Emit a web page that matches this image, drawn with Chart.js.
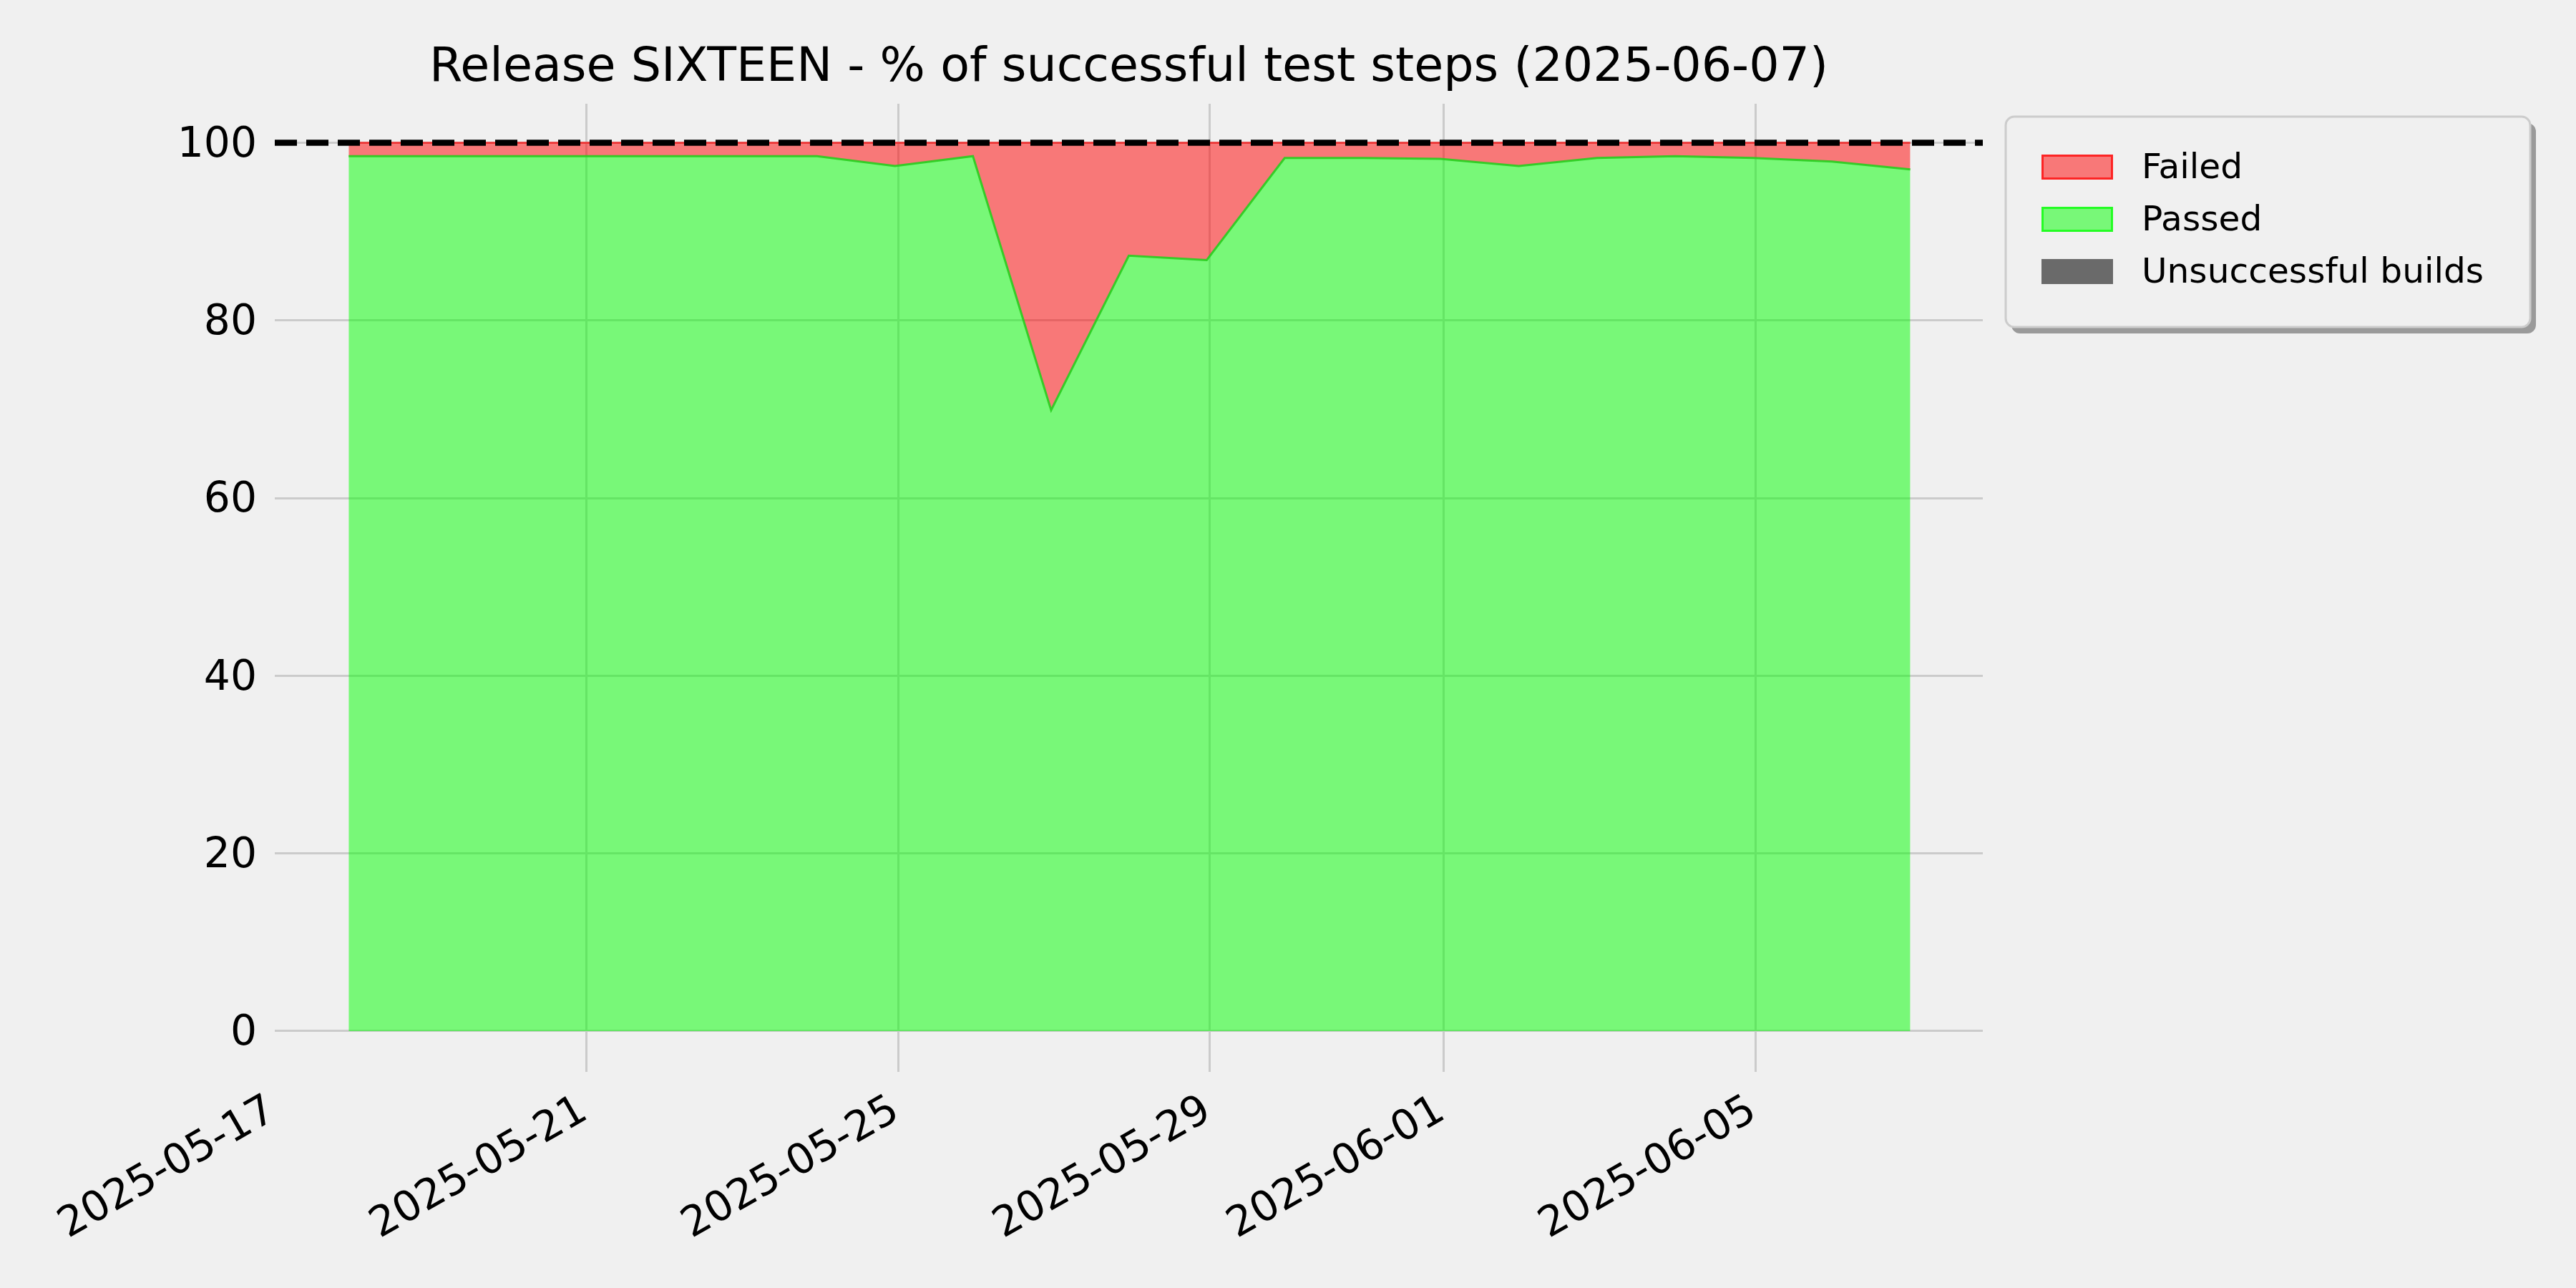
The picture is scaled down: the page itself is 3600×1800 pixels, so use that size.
<!DOCTYPE html>
<html>
<head>
<meta charset="utf-8">
<title>Release SIXTEEN - successful test steps</title>
<script src="https://cdn.jsdelivr.net/npm/chart.js@4.4.1/dist/chart.umd.min.js"></script>
<style>
  html, body { margin: 0; padding: 0; background: #f0f0f0; }
  canvas { display: block; }
</style>
</head>
<body>
<canvas id="chart" width="3600" height="1800"></canvas>
<script>
const chartTitle = 'Release SIXTEEN - % of successful test steps (2025-06-07)';

// nightly runs (UTC)
const runTimes = [
  '2025-05-17T22:45:00Z', '2025-05-18T23:00:00Z', '2025-05-19T23:00:00Z', '2025-05-20T23:00:00Z',
  '2025-05-21T23:00:00Z', '2025-05-22T23:00:00Z', '2025-05-23T23:00:00Z', '2025-05-24T23:00:00Z',
  '2025-05-25T23:00:00Z', '2025-05-26T23:05:00Z', '2025-05-27T23:00:00Z', '2025-05-28T23:00:00Z',
  '2025-05-29T23:00:00Z', '2025-05-30T23:00:00Z', '2025-05-31T23:00:00Z', '2025-06-01T23:05:00Z',
  '2025-06-02T23:10:00Z', '2025-06-03T23:15:00Z', '2025-06-04T23:20:00Z', '2025-06-05T23:30:00Z',
  '2025-06-06T23:40:00Z'
];
const passedPct = [98.5, 98.5, 98.5, 98.5, 98.5, 98.5, 98.5, 97.4, 98.5, 69.9, 87.3,
                   86.8, 98.3, 98.3, 98.2, 97.4, 98.3, 98.5, 98.3, 97.9, 97.0];
const failedPct = [1.5, 1.5, 1.5, 1.5, 1.5, 1.5, 1.5, 2.6, 1.5, 30.1, 12.7,
                   13.2, 1.7, 1.7, 1.8, 2.6, 1.7, 1.5, 1.7, 2.1, 3.0];
const unsuccessfulPct = [0, 0, 0, 0, 0, 0, 0, 0, 0, 0, 0,
                         0, 0, 0, 0, 0, 0, 0, 0, 0, 0];

const xTickLabels = ['2025-05-17', '2025-05-21', '2025-05-25', '2025-05-29', '2025-06-01', '2025-06-05'];
const yTicks = [0, 20, 40, 60, 80, 100];
const targetPct = 100;
const xRange = ['2025-05-17T00:00:00Z', '2025-06-07T22:00:00Z'];
const yRange = [-4.6, 104.4];

const FONT = "'DejaVu Sans', 'Liberation Sans', sans-serif";
const BG = '#f0f0f0';
const GRID = '#cbcbcb';

function toMs(s) {
  if (s.length === 10) s += 'T00:00:00Z';
  return new Date(s).getTime();
}

function series(values) {
  return values.map((v, i) => ({ x: toMs(runTimes[i]), y: v }));
}

const background = {
  id: 'background',
  beforeDraw(chart) {
    const ctx = chart.ctx;
    ctx.save();
    ctx.fillStyle = BG;
    ctx.fillRect(0, 0, chart.width, chart.height);
    ctx.restore();
  }
};

function roundRect(ctx, x, y, w, h, r) {
  ctx.beginPath();
  ctx.moveTo(x + r, y);
  ctx.arcTo(x + w, y, x + w, y + h, r);
  ctx.arcTo(x + w, y + h, x, y + h, r);
  ctx.arcTo(x, y + h, x, y, r);
  ctx.arcTo(x, y, x + w, y, r);
  ctx.closePath();
}

// title centred over the axes, legend outside on the right (matplotlib look)
const decorations = {
  id: 'decorations',
  afterDraw(chart) {
    const ctx = chart.ctx;
    const area = chart.chartArea;
    ctx.save();

    ctx.fillStyle = '#000';
    ctx.font = '66.7px ' + FONT;
    ctx.textAlign = 'center';
    ctx.textBaseline = 'alphabetic';
    ctx.fillText(chartTitle, (area.left + area.right) / 2, 113);

    const box = { x: 2803, y: 163, w: 733, h: 294 };
    ctx.fillStyle = '#9a9a9a';
    roundRect(ctx, box.x + 8, box.y + 9, box.w, box.h, 12);
    ctx.fill();
    ctx.fillStyle = BG;
    roundRect(ctx, box.x, box.y, box.w, box.h, 12);
    ctx.fill();
    ctx.strokeStyle = '#cccccc';
    ctx.lineWidth = 3;
    ctx.stroke();

    const order = [1, 0, 2];
    ctx.font = '48.6px ' + FONT;
    ctx.textAlign = 'left';
    ctx.textBaseline = 'middle';
    order.forEach((di, row) => {
      const ds = chart.data.datasets[di];
      const cy = 233.5 + row * 73;
      ctx.fillStyle = BG;
      ctx.fillRect(2853, cy - 17.5, 100, 35);
      ctx.fillStyle = ds.backgroundColor;
      ctx.fillRect(2853, cy - 17.5, 100, 35);
      if (ds.legendEdge) {
        ctx.strokeStyle = ds.legendEdge;
        ctx.lineWidth = 3;
        ctx.strokeRect(2854.5, cy - 16, 97, 32);
      }
      ctx.fillStyle = '#000';
      ctx.fillText(ds.label, 2993, cy + 3);
    });
    ctx.restore();
  }
};

new Chart(document.getElementById('chart'), {
  type: 'line',
  data: {
    datasets: [
      {
        label: 'Passed',
        data: series(passedPct),
        backgroundColor: 'rgba(0, 255, 0, 0.5)',
        borderColor: 'rgba(40, 205, 30, 0.9)',
        legendEdge: 'rgba(0, 255, 0, 0.7)',
        borderWidth: 3,
        fill: 'origin',
        stack: 'runs'
      },
      {
        label: 'Failed',
        data: series(failedPct),
        backgroundColor: 'rgba(255, 0, 0, 0.5)',
        borderColor: 'rgba(240, 40, 40, 0.8)',
        legendEdge: 'rgba(255, 0, 0, 0.7)',
        borderWidth: 3,
        fill: '-1',
        stack: 'runs'
      },
      {
        label: 'Unsuccessful builds',
        data: series(unsuccessfulPct),
        backgroundColor: '#6a6a6a',
        borderWidth: 0,
        fill: '-1',
        stack: 'runs'
      },
      {
        label: 'target',
        data: [{ x: toMs(xRange[0]), y: targetPct }, { x: toMs(xRange[1]), y: targetPct }],
        borderColor: '#000',
        borderWidth: 8.5,
        borderDash: [31, 13],
        fill: false,
        stack: 'target',
        order: -1
      }
    ]
  },
  options: {
    responsive: false,
    devicePixelRatio: 1,
    animation: false,
    events: [],
    layout: { padding: { top: 145, right: 829, bottom: 0, left: 0 } },
    elements: {
      point: { radius: 0 },
      line: { tension: 0 }
    },
    plugins: {
      legend: { display: false },
      title: { display: false },
      tooltip: { enabled: false }
    },
    scales: {
      x: {
        type: 'linear',
        min: toMs(xRange[0]),
        max: toMs(xRange[1]),
        afterBuildTicks: (scale) => {
          scale.ticks = xTickLabels.map(d => ({ value: toMs(d) }));
        },
        afterFit: (scale) => { scale.height = 302; },
        ticks: {
          autoSkip: false,
          minRotation: 30,
          maxRotation: 30,
          padding: 20,
          labelOffset: -3,
          color: '#000',
          font: { family: FONT, size: 58.3 },
          callback: (value, index) => xTickLabels[index]
        },
        grid: {
          color: (ctx) => (ctx.tick && ctx.tick.value <= toMs(xRange[0])) ? 'rgba(0,0,0,0)' : GRID,
          lineWidth: 3,
          drawTicks: false
        },
        border: { display: false }
      },
      y: {
        stacked: true,
        min: yRange[0],
        max: yRange[1],
        afterBuildTicks: (scale) => {
          scale.ticks = yTicks.map(v => ({ value: v }));
        },
        afterFit: (scale) => { scale.width = 384; },
        ticks: {
          padding: 25,
          labelOffset: 4,
          color: '#000',
          font: { family: FONT, size: 58.3 },
          callback: (value) => String(value)
        },
        grid: {
          color: GRID,
          lineWidth: 3,
          drawTicks: false
        },
        border: { display: false }
      }
    }
  },
  plugins: [background, decorations]
});
</script>
</body>
</html>
